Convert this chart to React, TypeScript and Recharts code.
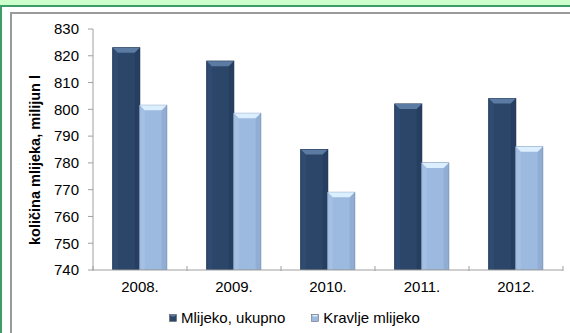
import React from "react";
import { BarChart, Bar, XAxis, YAxis, Legend, Label } from "recharts";

// Milk production, million litres
const years = ["2008.", "2009.", "2010.", "2011.", "2012."];
const totalMilk = [823, 818, 785, 802, 804];
const cowMilk = [801.5, 798.5, 769, 780, 786];
const yTicks = [740, 750, 760, 770, 780, 790, 800, 810, 820, 830];

const SERIES_TOTAL = "Mlijeko, ukupno";
const SERIES_COW = "Kravlje mlijeko";

const data = years.map((year, i) => ({
  year,
  total: totalMilk[i],
  cow: cowMilk[i],
}));

const CHART_W = 570;
const CHART_H = 333;
const MARGIN = { top: 29, right: 7, left: 0, bottom: 2 };
const Y_AXIS_W = 93;
const FONT = "'Liberation Sans', Arial, sans-serif";

const DARK = { body: "#2b4669", top: "#5c7ba3", edge: "#1c3150", side: "#365680" };
const LIGHT = { body: "#9cb9df", top: "#dcefff", edge: "#7d98bd", side: "#b4cdec" };

// Bar with a small bevelled top, in the style of office charts
const makeBevelBar = (pal: typeof DARK) => (props: any) => {
  const { x, y, width, height } = props;
  if (!height || height <= 0) return null;
  const b = Math.min(5, width / 4, height);
  return (
    <g>
      <rect x={x} y={y} width={width} height={height} fill={pal.body} stroke={pal.edge} strokeWidth={1} />
      <polygon
        points={`${x},${y} ${x + width},${y} ${x + width - b},${y + b} ${x + b},${y + b}`}
        fill={pal.top}
      />
      <polygon
        points={`${x},${y} ${x + b},${y + b} ${x + b},${y + height} ${x},${y + height}`}
        fill={pal.side}
        opacity={0.35}
      />
      <polygon
        points={`${x + width},${y} ${x + width - b},${y + b} ${x + width - b},${y + height} ${x + width},${y + height}`}
        fill={pal.edge}
        opacity={0.35}
      />
    </g>
  );
};

const plotWidth = CHART_W - MARGIN.left - MARGIN.right - Y_AXIS_W;
const bandWidth = plotWidth / years.length;

// Category tick: label at band centre, tick marks at band boundaries
const XTick = (props: any) => {
  const { x, y, payload, index } = props;
  const axisY = y - 12;
  const left = x - bandWidth / 2;
  const right = x + bandWidth / 2;
  return (
    <g>
      <line x1={left} y1={axisY} x2={left} y2={axisY + 5} stroke="#a0a0a0" />
      {index === years.length - 1 && (
        <line x1={right} y1={axisY} x2={right} y2={axisY + 5} stroke="#a0a0a0" />
      )}
      <text x={x} y={axisY + 20} textAnchor="middle" dominantBaseline="central" fontSize={15} fontFamily={FONT} fill="#000">
        {payload.value}
      </text>
    </g>
  );
};

const LegendContent = () => {
  const items = [
    { name: SERIES_TOTAL, color: DARK.body, hi: DARK.top },
    { name: SERIES_COW, color: LIGHT.body, hi: LIGHT.top },
  ];
  return (
    <div style={{ display: "flex", justifyContent: "center", gap: 26, fontFamily: FONT, fontSize: 15, color: "#000", paddingLeft: 26 }}>
      {items.map((it) => (
        <div key={it.name} style={{ display: "flex", alignItems: "center" }}>
          <svg width={8} height={8} style={{ marginRight: 4 }}>
            <rect x={0.5} y={0.5} width={7} height={7} fill={it.color} stroke="#555" strokeWidth={0.5} />
            <polygon points="1,1 7,1 5.5,2.5 2.5,2.5" fill={it.hi} />
          </svg>
          <span>{it.name}</span>
        </div>
      ))}
    </div>
  );
};

export default function App() {
  return (
    <div style={{ position: "absolute", left: 0, top: 0, width: CHART_W, height: CHART_H, background: "#fff", overflow: "hidden" }}>
      <div style={{ position: "absolute", left: 0, top: 0, width: CHART_W, height: 5, background: "#ccffcc" }} />
      <div style={{ position: "absolute", left: 0, top: 5, width: CHART_W, height: 2, background: "#3c9d66" }} />
      <div style={{ position: "absolute", left: 0, top: 5, width: 2, height: CHART_H, background: "#3c9d66" }} />
      <div style={{ position: "absolute", left: 10, top: 12, width: CHART_W, height: CHART_H, borderLeft: "2px solid #9a9a9a", borderTop: "2px solid #9a9a9a" }} />
      <div style={{ position: "absolute", left: 0, top: 0 }}>
        <BarChart width={CHART_W} height={CHART_H} data={data} margin={MARGIN} barCategoryGap="21%" barGap={0}>
          <XAxis
            dataKey="year"
            height={39}
            tickLine={false}
            axisLine={{ stroke: "#a0a0a0" }}
            tick={<XTick />}
            interval={0}
          />
          <YAxis
            width={Y_AXIS_W}
            domain={[740, 830]}
            ticks={yTicks}
            interval={0}
            allowDataOverflow
            axisLine={{ stroke: "#a0a0a0" }}
            tickLine={{ stroke: "#a0a0a0" }}
            tickSize={5}
            tickMargin={9}
            tick={{ fontSize: 15, fontFamily: FONT, fill: "#000" }}
          >
            <Label
              content={() => (
                <text
                  x={35}
                  y={160}
                  transform="rotate(-90 35 160)"
                  textAnchor="middle"
                  dominantBaseline="central"
                  fontSize={14.5}
                  fontWeight="bold"
                  fontFamily={FONT}
                  fill="#000"
                >
                  količina mlijeka, milijun l
                </text>
              )}
            />
          </YAxis>
          <Legend verticalAlign="bottom" height={22} content={<LegendContent />} />
          <Bar dataKey="total" name={SERIES_TOTAL} isAnimationActive={false} shape={makeBevelBar(DARK)} />
          <Bar dataKey="cow" name={SERIES_COW} isAnimationActive={false} shape={makeBevelBar(LIGHT)} />
        </BarChart>
      </div>
    </div>
  );
}
